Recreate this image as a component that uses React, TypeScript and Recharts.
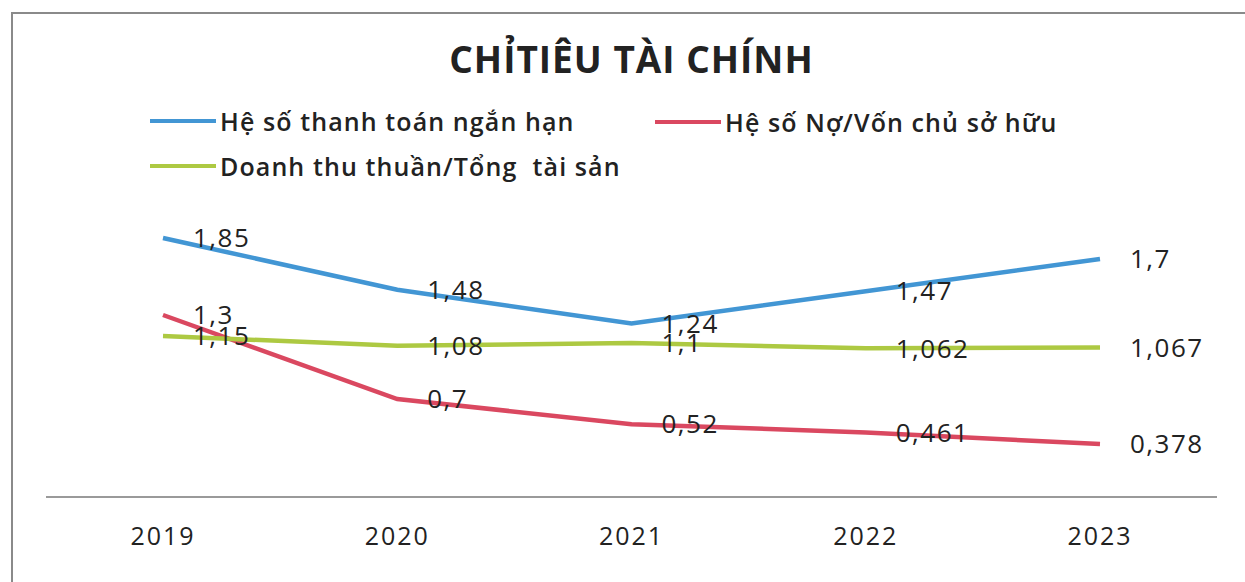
import React from "react";
import { LineChart, Line, XAxis, YAxis, Legend, LabelList } from "recharts";

const years = ["2019", "2020", "2021", "2022", "2023"];
const thanhToan = [1.85, 1.48, 1.24, 1.47, 1.7];
const noVon = [1.3, 0.7, 0.52, 0.461, 0.378];
const doanhThu = [1.15, 1.08, 1.1, 1.062, 1.067];

const data = years.map((year, i) => ({
  year,
  thanhToan: thanhToan[i],
  noVon: noVon[i],
  doanhThu: doanhThu[i],
}));

const fmt = (v: any) => String(v).replace(".", ",");

// where each legend entry sits
const legendPos: Record<string, { left: number; top: number }> = {
  thanhToan: { left: 150, top: 121 },
  noVon: { left: 655, top: 122 },
  doanhThu: { left: 150, top: 166 },
};

function renderLegend(props: any) {
  const { payload = [] } = props;
  return (
    <div style={{ position: "relative", width: 1245, height: 0 }}>
      {payload.map((p: any) => {
        const pos = legendPos[p.dataKey];
        return (
          <div
            key={p.dataKey}
            style={{
              position: "absolute",
              left: pos.left,
              top: pos.top - 17,
              height: 34,
              display: "flex",
              alignItems: "center",
              whiteSpace: "pre",
            }}
          >
            <span style={{ display: "inline-block", width: 66, height: 4, background: p.color, marginRight: 4 }} />
            <span style={{ fontFamily: "'Open Sans', sans-serif", fontWeight: 600, fontSize: 25, color: "#222", letterSpacing: 1.1 }}>
              {p.value}
            </span>
          </div>
        );
      })}
    </div>
  );
}

export default function App() {
  const labelProps = {
    position: "right" as const,
    offset: 30,
    formatter: fmt,
    fill: "#222",
    fontSize: 26,
    fontFamily: "'Open Sans', sans-serif",
    letterSpacing: 1.5,
  };
  return (
    <div style={{ position: "absolute", left: 0, top: 0, width: 1245, height: 582, background: "#fff", overflow: "hidden" }}>
      {/* frame: only top and left edges show in the scan */}
      <div style={{ position: "absolute", left: 11, top: 12, width: 1234, height: 2, background: "#8a8a8a" }} />
      <div style={{ position: "absolute", left: 11, top: 12, width: 2, height: 570, background: "#8a8a8a" }} />
      <div
        style={{
          position: "absolute",
          left: 0,
          width: 1263,
          top: 33,
          textAlign: "center",
          fontFamily: "'Open Sans', sans-serif",
          fontWeight: 700,
          fontSize: 37,
          color: "#222",
          letterSpacing: 1,
        }}
      >
        CHỈTIÊU TÀI CHÍNH
      </div>
      <LineChart
        width={1245}
        height={582}
        data={data}
        margin={{ top: 217, right: 28, left: 46, bottom: 25 }}
        style={{ position: "absolute", left: 0, top: 0 }}
      >
        <XAxis
          dataKey="year"
          padding={{ left: 117, right: 117 }}
          axisLine={{ stroke: "#9a9a9a", strokeWidth: 2 }}
          tickLine={false}
          tickMargin={24}
          height={60}
          tick={{ fill: "#222", fontSize: 25, fontFamily: "'Open Sans', sans-serif", letterSpacing: 2 }}
        />
        <YAxis hide domain={[0, 2]} />
        <Legend
          content={renderLegend}
          wrapperStyle={{ position: "absolute", left: 0, top: 0, width: 1245, height: 0 }}
        />
        <Line
          dataKey="thanhToan"
          name="Hệ số thanh toán ngắn hạn"
          stroke="#4296d4"
          strokeWidth={4.5}
          dot={false}
          isAnimationActive={false}
        >
          <LabelList dataKey="thanhToan" {...labelProps} />
        </Line>
        <Line
          dataKey="noVon"
          name="Hệ số Nợ/Vốn chủ sở hữu"
          stroke="#da4860"
          strokeWidth={4.5}
          dot={false}
          isAnimationActive={false}
        >
          <LabelList dataKey="noVon" {...labelProps} />
        </Line>
        <Line
          dataKey="doanhThu"
          name="Doanh thu thuần/Tổng  tài sản"
          stroke="#adc942"
          strokeWidth={4.5}
          dot={false}
          isAnimationActive={false}
        >
          <LabelList dataKey="doanhThu" {...labelProps} />
        </Line>
      </LineChart>
    </div>
  );
}
